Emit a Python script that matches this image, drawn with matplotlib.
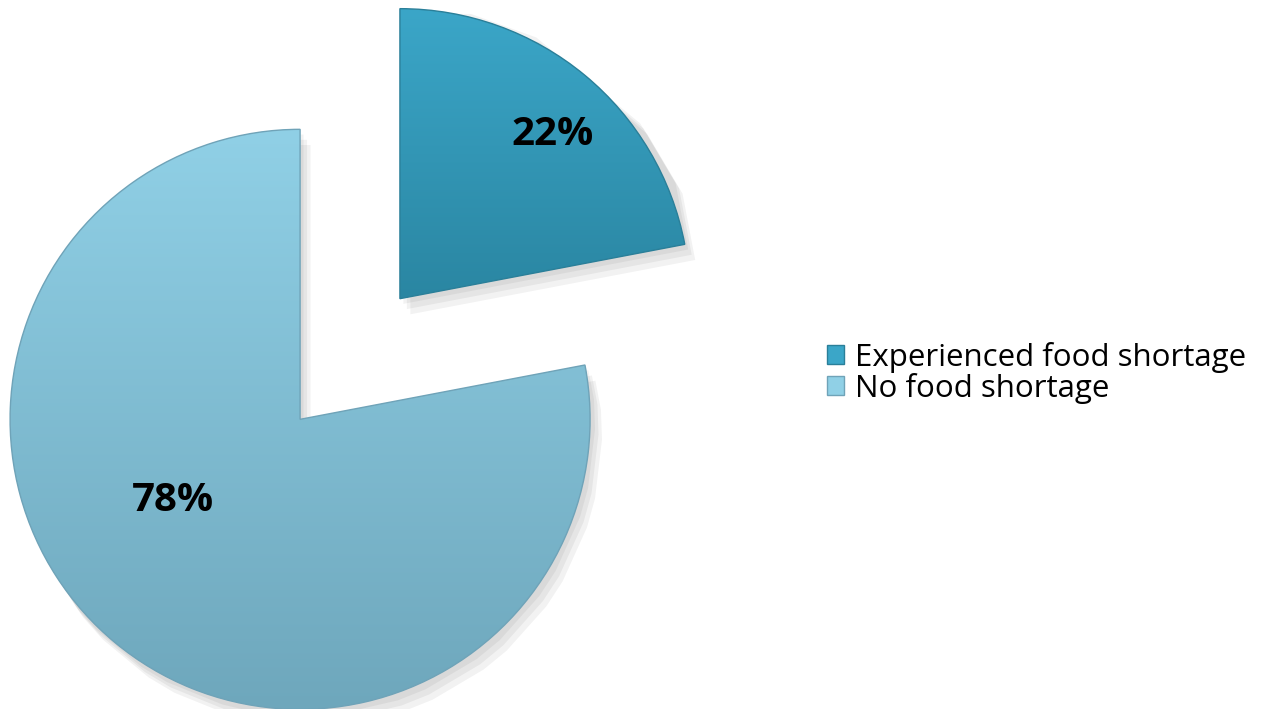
import numpy as np
import matplotlib
matplotlib.use("Agg")
import matplotlib.pyplot as plt
from matplotlib.colors import LinearSegmentedColormap
from matplotlib.patches import Patch

# Dati
labels = ["Experienced food shortage", "No food shortage"]
shares = [22, 78]
explode = [0.27, 0.27]
# colori (alto, basso) del gradiente di ogni spicchio
top_colors = ["#3ba6c8", "#90d0e6"]
bottom_colors = ["#2a86a2", "#6ea7bc"]
edge_colors = ["#2a7f99", "#6fa3b8"]

plt.rcParams["font.family"] = ["Open Sans", "DejaVu Sans"]

fig = plt.figure(figsize=(12.68, 7.09), dpi=100)
ax = fig.add_axes([0, 0, 1, 1])

wedges, texts, autotexts = ax.pie(
    shares, explode=explode, startangle=90, counterclock=False,
    autopct="%1.0f%%", pctdistance=0.78,
    textprops=dict(fontsize=29, fontweight="bold", color="black"))

# scala: 290 px per unità di raggio, centro in (350, 359) px
ax.set_xlim(-350 / 290, (1268 - 350) / 290)
ax.set_ylim(-(709 - 359) / 290, 359 / 290)
ax.set_aspect("equal")
ax.axis("off")

for i, w in enumerate(wedges):
    path = w.get_path().transformed(w.get_patch_transform())
    x0, y0 = path.vertices.min(axis=0)
    x1, y1 = path.vertices.max(axis=0)
    # ombra morbida
    for k in range(3):
        sh = plt.Polygon(path.vertices + [0.012 * (k + 1), -0.018 * (k + 1)],
                         closed=True, fc="#000000", ec="none", alpha=0.05,
                         zorder=0.5)
        ax.add_patch(sh)
    cmap = LinearSegmentedColormap.from_list(
        f"g{i}", [bottom_colors[i], top_colors[i]])
    grad = np.linspace(0, 1, 256).reshape(-1, 1)
    im = ax.imshow(grad, extent=(x0, x1, y0, y1), origin="lower", cmap=cmap,
                   aspect="auto", zorder=1, interpolation="bilinear")
    im.set_clip_path(w)
    w.set_facecolor("none")
    w.set_edgecolor(edge_colors[i])
    w.set_linewidth(1.0)
    w.set_zorder(2)

ax.set_xlim(-350 / 290, (1268 - 350) / 290)
ax.set_ylim(-(709 - 359) / 290, 359 / 290)

for t in autotexts:
    t.set_zorder(3)
# posizione delle etichette percentuali
x, y = autotexts[0].get_position()
autotexts[0].set_position((x + 0.03, y - 0.035))
cx, cy = wedges[1].center
autotexts[1].set_position((cx - 0.44, cy - 0.28))

handles = [Patch(facecolor=top_colors[0], edgecolor=edge_colors[0]),
           Patch(facecolor=top_colors[1], edgecolor=edge_colors[1])]
fig.legend(handles, labels, loc="center left", bbox_to_anchor=(0.652, 0.474),
           frameon=False, fontsize=22.5, handlelength=0.55, handleheight=0.55,
           handletextpad=0.35, labelspacing=0.0, borderpad=0,
           borderaxespad=0)

fig.savefig("out.png", dpi=100)
